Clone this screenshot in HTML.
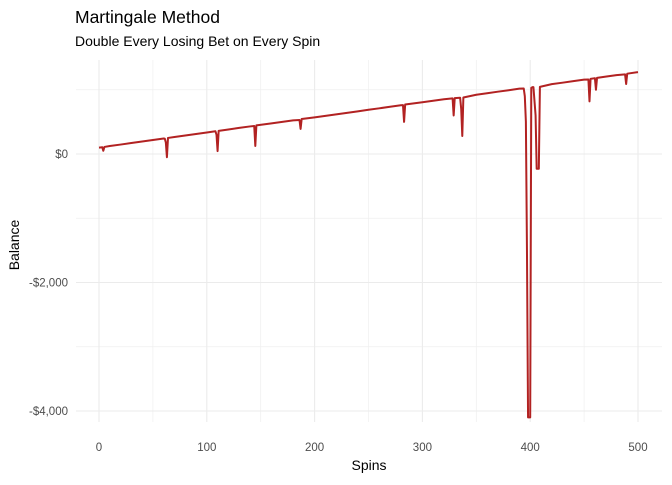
<!DOCTYPE html>
<html><head><meta charset="utf-8"><style>
body{margin:0;background:#fff;font-family:"Liberation Sans",sans-serif}
svg text{font-family:"Liberation Sans",sans-serif}
</style></head><body>
<svg id="c" width="672" height="480">
<text x="75" y="23" font-size="17.5" fill="#000">Martingale Method</text>
<text x="75" y="46" font-size="14" fill="#000">Double Every Losing Bet on Every Spin</text>
<g id="grid"></g><g id="axes"></g><g id="plot"></g>
<text x="369" y="470" font-size="14" text-anchor="middle">Spins</text>
<text transform="translate(19,245) rotate(-90)" font-size="14" text-anchor="middle">Balance</text>
</svg>
<script>
const spins=[0,3,4,5,10,20,30,40,50,60,61,62,63,64,70,80,90,100,108,109,110,111,120,130,140,144,145,146,160,170,180,186,187,188,200,210,220,230,240,250,260,270,280,282,283,284,300,310,320,328,329,330,335,336,337,338,350,360,370,380,390,394,395,396,397,398,400,401,402,403,405,406,408,409,420,430,440,450,454,455,456,460,461,462,470,480,488,489,490,500];
const balance=[100,105,50,110,124,147,171,194,218,241,240,180,-50,250,265,288,312,335,354,300,45,360,382,406,429,435,125,445,476,500,523,530,390,545,570,594,617,640,664,688,711,735,758,760,500,770,805,829,852,865,600,870,875,700,280,880,922,946,970,993,1017,1020,900,500,-1500,-4100,-4100,1030,1040,1040,600,-230,-230,1045,1087,1110,1134,1157,1160,820,1170,1180,1000,1185,1204,1228,1240,1090,1250,1275];
const xTicks=[0,100,200,300,400,500];
const xMinor=[50,150,250,350,450];
const yTicks=[0,-2000,-4000];
const yTickLabels=["$0","-$2,000","-$4,000"];
const yMinor=[1000,-1000,-3000];
const X=v=>99+v*1.078;
const Y=v=>154-v*0.06425;
const NS="http://www.w3.org/2000/svg";
function mk(tag,at,parent){const e=document.createElementNS(NS,tag);for(const k in at)e.setAttribute(k,at[k]);document.getElementById(parent).appendChild(e);return e;}
xMinor.forEach(v=>{const l=mk('line',{x1:X(v),x2:X(v),y1:60,y2:422,stroke:'#efefef','stroke-width':0.7},'grid');

});
yMinor.forEach(v=>{const l=mk('line',{x1:76,x2:662,y1:Y(v),y2:Y(v),stroke:'#efefef','stroke-width':0.7},'grid');

});
xTicks.forEach(v=>{const l=mk('line',{x1:X(v),x2:X(v),y1:60,y2:422,stroke:'#ebebeb','stroke-width':1.1},'grid');


const t=mk('text',{x:X(v),y:451,'font-size':11.5,fill:'#4d4d4d','text-anchor':'middle'},'axes');t.textContent=v;

});
yTicks.forEach((v,i)=>{const l=mk('line',{x1:76,x2:662,y1:Y(v),y2:Y(v),stroke:'#ebebeb','stroke-width':1.1},'grid');


const t=mk('text',{x:68,y:Y(v)+4,'font-size':11.5,fill:'#4d4d4d','text-anchor':'end'},'axes');t.textContent=yTickLabels[i];

});
const p=mk('polyline',{points:spins.map((s,i)=>X(s)+','+Y(balance[i])).join(' '),fill:'none',stroke:'#b22222','stroke-width':2,'stroke-linejoin':'round'},'plot');


</script>
</body></html>
